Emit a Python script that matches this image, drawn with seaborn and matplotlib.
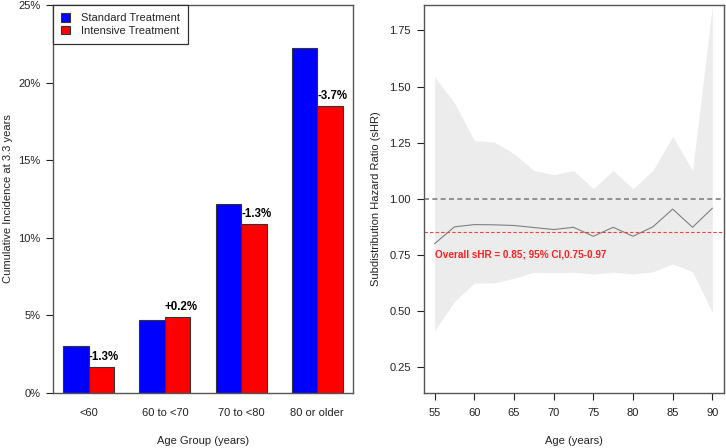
import matplotlib
matplotlib.use('Agg')
import matplotlib.pyplot as plt
import seaborn as sns
import pandas as pd

# Left panel: cumulative incidence (%) by age group
age_groups = ['<60', '60 to <70', '70 to <80', '80 or older']
standard = [3.0, 4.7, 12.2, 22.2]
intensive = [1.7, 4.9, 10.9, 18.5]
diff_labels = ['-1.3%', '+0.2%', '-1.3%', '-3.7%']

# Right panel: subdistribution hazard ratio by age
ages = [55, 57.5, 60, 62.5, 65, 67.5, 70, 72.5, 75, 77.5, 80, 82.5, 85, 87.5, 90]
shr = [0.80, 0.875, 0.885, 0.884, 0.881, 0.872, 0.863, 0.873, 0.833, 0.873, 0.833, 0.875, 0.954, 0.873, 0.958]
upper = [1.543, 1.427, 1.259, 1.253, 1.201, 1.126, 1.107, 1.126, 1.045, 1.126, 1.045, 1.126, 1.278, 1.126, 1.859]
lower = [0.412, 0.543, 0.625, 0.625, 0.646, 0.673, 0.670, 0.673, 0.665, 0.673, 0.665, 0.675, 0.710, 0.675, 0.494]

sns.set_style('white')
plt.rcParams['font.family'] = ['Liberation Sans', 'DejaVu Sans']
plt.rcParams['font.size'] = 8

fig = plt.figure(figsize=(7.26, 4.48), dpi=100)
ax1 = fig.add_axes([53 / 726, 55 / 448, 300 / 726, 388 / 448])
ax2 = fig.add_axes([423.5 / 726, 55 / 448, 300 / 726, 388 / 448])

# --- bar chart ---
df = pd.DataFrame({
    'group': age_groups * 2,
    'value': standard + intensive,
    'treatment': ['Standard Treatment'] * 4 + ['Intensive Treatment'] * 4,
})
sns.barplot(data=df, x='group', y='value', hue='treatment',
            palette={'Standard Treatment': '#0000ff', 'Intensive Treatment': '#ff0000'},
            saturation=1, width=0.67, gap=0, edgecolor='#333333', linewidth=0.8, ax=ax1)

for i, (val, lab) in enumerate(zip(intensive, diff_labels)):
    ax1.text(i, val + 0.62, lab, ha='left', va='center', fontsize=8.3,
             fontweight='bold', color='black')

ax1.set_xlim(-0.47, 3.47)
ax1.set_ylim(0, 25)
ax1.set_yticks([0, 5, 10, 15, 20, 25])
ax1.set_yticklabels([f'{t}%' for t in [0, 5, 10, 15, 20, 25]])
ax1.tick_params(axis='x', length=0, pad=11, labelsize=8, colors='#222222')
ax1.tick_params(axis='y', left=True, length=5, width=0.8, pad=4, labelsize=8,
                colors='#222222')
ax1.set_xlabel('Age Group (years)', va='center')
ax1.set_ylabel('Cumulative Incidence at 3.3 years', va='center')
ax1.xaxis.set_label_coords(0.5, -0.124)
ax1.yaxis.set_label_coords(-0.15, 0.5)

leg = ax1.legend(loc='upper left', borderaxespad=0, fancybox=False,
                 edgecolor='#333333', framealpha=1, handlelength=0.75,
                 handleheight=0.75, handletextpad=1.0, labelspacing=0.25,
                 borderpad=0.75, fontsize=8)
leg.get_frame().set_linewidth(0.9)

# --- hazard ratio chart ---
ax2.fill_between(ages, lower, upper, color='#ececec', linewidth=0)
sns.lineplot(x=ages, y=shr, color='#808080', linewidth=0.8, ax=ax2)
ax2.axhline(1.0, color='#808080', linewidth=1.2, dashes=(3, 2))
ax2.axhline(0.85, color='#ff3b3b', linewidth=0.8, dashes=(3, 2))
ax2.text(55, 0.75, 'Overall sHR = 0.85; 95% CI,0.75-0.97', ha='left', va='center',
         fontsize=7.2, fontweight='bold', color='#ff2020')

ax2.set_xlim(53.6, 91.4)
ax2.set_ylim(0.135, 1.863)
ax2.set_xticks([55, 60, 65, 70, 75, 80, 85, 90])
ax2.set_yticks([0.25, 0.5, 0.75, 1.0, 1.25, 1.5, 1.75])
ax2.set_yticklabels([f'{t:.2f}' for t in [0.25, 0.5, 0.75, 1.0, 1.25, 1.5, 1.75]])
ax2.tick_params(axis='x', bottom=True, length=5, width=0.8, pad=6, labelsize=8,
                colors='#222222')
ax2.tick_params(axis='y', left=True, length=5, width=0.8, pad=4, labelsize=8,
                colors='#222222')
ax2.set_xlabel('Age (years)', va='center')
ax2.set_ylabel('Subdistribution Hazard Ratio (sHR)', va='center')
ax2.xaxis.set_label_coords(0.5, -0.124)
ax2.yaxis.set_label_coords(-0.158, 0.5)

for ax in (ax1, ax2):
    for sp in ax.spines.values():
        sp.set_color('#555555')
        sp.set_linewidth(1.0)
    ax.xaxis.label.set_color('#222222')
    ax.yaxis.label.set_color('#222222')

fig.savefig('out.png', dpi=100)
